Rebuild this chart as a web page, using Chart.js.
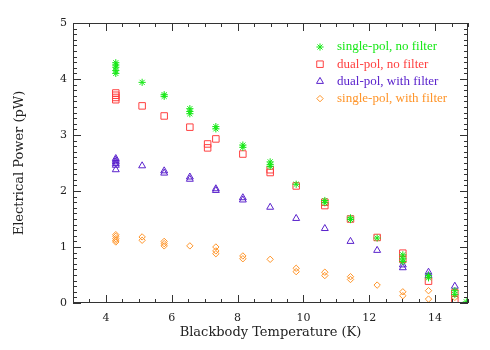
<!DOCTYPE html>
<html>
<head>
<meta charset="utf-8">
<script src="https://cdn.jsdelivr.net/npm/chart.js@4"></script>
<style>
  html, body { margin: 0; padding: 0; background: #fff; }
  #wrap { width: 490px; height: 350px; }
</style>
</head>
<body>
<div id="wrap"><canvas id="powerChart" width="490" height="350"></canvas></div>
<script>
// =========================
// DATA
// =========================

const seriesLabels = [
  "single-pol, no filter",
  "dual-pol, no filter",
  "dual-pol, with filter",
  "single-pol, with filter",
];

const seriesColors = ["#16e816", "#ff4040", "#5a22cc", "#ff9428"];

const xTickLabels = [4, 6, 8, 10, 12, 14];
const yTickLabels = [0, 1, 2, 3, 4, 5];

// blackbody temperatures (K) for each series
const tempsSingleNoFilter = [4.3, 5.1, 5.77, 6.55, 7.34, 8.16, 8.99, 9.78, 10.65, 11.43, 12.24, 13.02, 13.8, 14.6, 14.95];
const tempsDualNoFilter = [4.3, 5.1, 5.77, 6.55, 7.09, 7.34, 8.16, 8.99, 9.78, 10.65, 11.43, 12.24, 13.02, 13.8, 14.6];
const tempsDualFilter = [4.3, 5.1, 5.77, 6.55, 7.34, 8.16, 8.99, 9.78, 10.65, 11.43, 12.24, 13.02, 13.8, 14.6];
const tempsSingleFilter = [4.3, 5.1, 5.77, 6.55, 7.34, 8.16, 8.99, 9.78, 10.65, 11.43, 12.24, 13.02, 13.8, 14.6];

// electrical power (pW), several readings per temperature
const powerSingleNoFilter = [
  [4.29, 4.25, 4.21, 4.15, 4.1], [3.94], [3.72, 3.69], [3.47, 3.42, 3.38], [3.15, 3.11],
  [2.82, 2.78], [2.52, 2.47, 2.44], [2.12], [1.83, 1.79], [1.52, 1.49],
  [1.16], [0.86, 0.79, 0.74], [0.49, 0.45], [0.22, 0.15], [0.02],
];
const powerDualNoFilter = [
  [3.75, 3.71, 3.67, 3.63], [3.52], [3.34], [3.14], [2.84, 2.77],
  [2.93], [2.66], [2.38, 2.33], [2.09], [1.8, 1.74],
  [1.5], [1.17], [0.89, 0.78], [0.39], [0.18, 0.06],
];
const powerDualFilter = [
  [2.58, 2.55, 2.52, 2.49, 2.46, 2.38], [2.45], [2.36, 2.32], [2.25, 2.21], [2.04, 2.01],
  [1.88, 1.84], [1.71], [1.51], [1.33], [1.1],
  [0.94], [0.68, 0.63], [0.55, 0.49], [0.3],
];
const powerSingleFilter = [
  [1.22, 1.19, 1.15, 1.12, 1.09], [1.18, 1.12], [1.1, 1.06, 1.02], [1.02], [1.0, 0.93, 0.88],
  [0.84, 0.79], [0.78], [0.62, 0.56], [0.55, 0.49], [0.47, 0.42],
  [0.32], [0.2, 0.13], [0.22, 0.07], [0.1],
];

function toPoints(temps, power) {
  const pts = [];
  temps.forEach((t, i) => {
    power[i].forEach((p) => pts.push({ x: t, y: p }));
  });
  return pts;
}

const pointStyles = ["star", "rect", "triangle", "rectRot"];
const pointRadii = [3.6, 4.6, 4, 3.2];

const allPoints = [
  toPoints(tempsSingleNoFilter, powerSingleNoFilter),
  toPoints(tempsDualNoFilter, powerDualNoFilter),
  toPoints(tempsDualFilter, powerDualFilter),
  toPoints(tempsSingleFilter, powerSingleFilter),
];

// =========================
// FRAME + INNER TICKS
// =========================

const framePlugin = {
  id: "frame",
  afterDraw(chart) {
    const { ctx, chartArea: a, scales } = chart;
    const x = scales.x;
    const y = scales.y;
    ctx.save();
    ctx.strokeStyle = "#333";
    ctx.lineWidth = 1;
    ctx.strokeRect(a.left + 0.5, a.top + 0.5, a.right - a.left - 1, a.bottom - a.top - 1);

    ctx.beginPath();
    for (let v = 3; v <= 15.001; v += 0.5) {
      const px = Math.round(x.getPixelForValue(v)) + 0.5;
      const len = Math.abs(v % 2) < 0.01 ? 8 : 4;
      ctx.moveTo(px, a.bottom);
      ctx.lineTo(px, a.bottom - len);
      ctx.moveTo(px, a.top);
      ctx.lineTo(px, a.top + len);
    }
    for (let i = 0; i <= 50; i++) {
      const py = Math.round(y.getPixelForValue(i / 10)) + 0.5;
      const len = i % 10 === 0 ? 8 : 4;
      ctx.moveTo(a.left, py);
      ctx.lineTo(a.left + len, py);
      ctx.moveTo(a.right, py);
      ctx.lineTo(a.right - len, py);
    }
    ctx.stroke();
    ctx.restore();
  },
};

// =========================
// LEGEND (inside plot)
// =========================

const legendPlugin = {
  id: "insideLegend",
  afterDraw(chart) {
    const { ctx } = chart;
    ctx.save();
    chart.data.datasets.forEach((ds, i) => {
      const yPos = 47 + i * 17.2;
      ctx.strokeStyle = ds.borderColor;
      ctx.fillStyle = "rgba(0,0,0,0)";
      ctx.lineWidth = 1;
      Chart.helpers.drawPoint(ctx, { pointStyle: ds.pointStyle, radius: ds.pointRadius, borderWidth: 1 }, 320, yPos);
      ctx.fillStyle = ds.borderColor;
      ctx.font = "13px 'Liberation Serif'";
      ctx.textAlign = "left";
      ctx.textBaseline = "middle";
      ctx.fillText(ds.label, 337, yPos);
    });
    ctx.restore();
  },
};

// =========================
// CHART
// =========================

const powerChart = new Chart(document.getElementById("powerChart"), {
  type: "scatter",
  data: {
    datasets: seriesLabels.map((label, i) => ({
      label: label,
      data: allPoints[i],
      pointStyle: pointStyles[i],
      pointRadius: pointRadii[i],
      borderColor: seriesColors[i],
      backgroundColor: "rgba(0,0,0,0)",
      borderWidth: 1,
    })),
  },
  options: {
    responsive: false,
    animation: false,
    layout: { padding: { left: 0, top: 23, right: 22, bottom: 0 } },
    plugins: {
      legend: { display: false },
      tooltip: { enabled: false },
    },
    scales: {
      x: {
        type: "linear",
        min: 3,
        max: 15,
        afterBuildTicks: (scale) => {
          scale.ticks = xTickLabels.map((v) => ({ value: v }));
        },
        afterFit: (scale) => {
          scale.height = 47;
        },
        grid: { display: false, drawTicks: false },
        border: { display: false },
        ticks: {
          padding: 9,
          color: "#222",
          font: { family: "DejaVu Serif", size: 11 },
          maxRotation: 0,
        },
        title: {
          display: true,
          text: "Blackbody Temperature (K)",
          color: "#222",
          font: { family: "DejaVu Serif", size: 13 },
          padding: { top: 0, bottom: 10 },
        },
      },
      y: {
        type: "linear",
        min: 0,
        max: 5,
        afterBuildTicks: (scale) => {
          scale.ticks = yTickLabels.map((v) => ({ value: v }));
        },
        afterFit: (scale) => {
          scale.width = 73;
        },
        grid: { display: false, drawTicks: false },
        border: { display: false },
        ticks: {
          padding: 6,
          color: "#222",
          font: { family: "DejaVu Serif", size: 11 },
        },
        title: {
          display: true,
          text: "Electrical Power (pW)",
          color: "#222",
          font: { family: "DejaVu Serif", size: 13 },
          padding: { top: 12, bottom: 0 },
        },
      },
    },
  },
  plugins: [framePlugin, legendPlugin],
});
</script>
</body>
</html>
